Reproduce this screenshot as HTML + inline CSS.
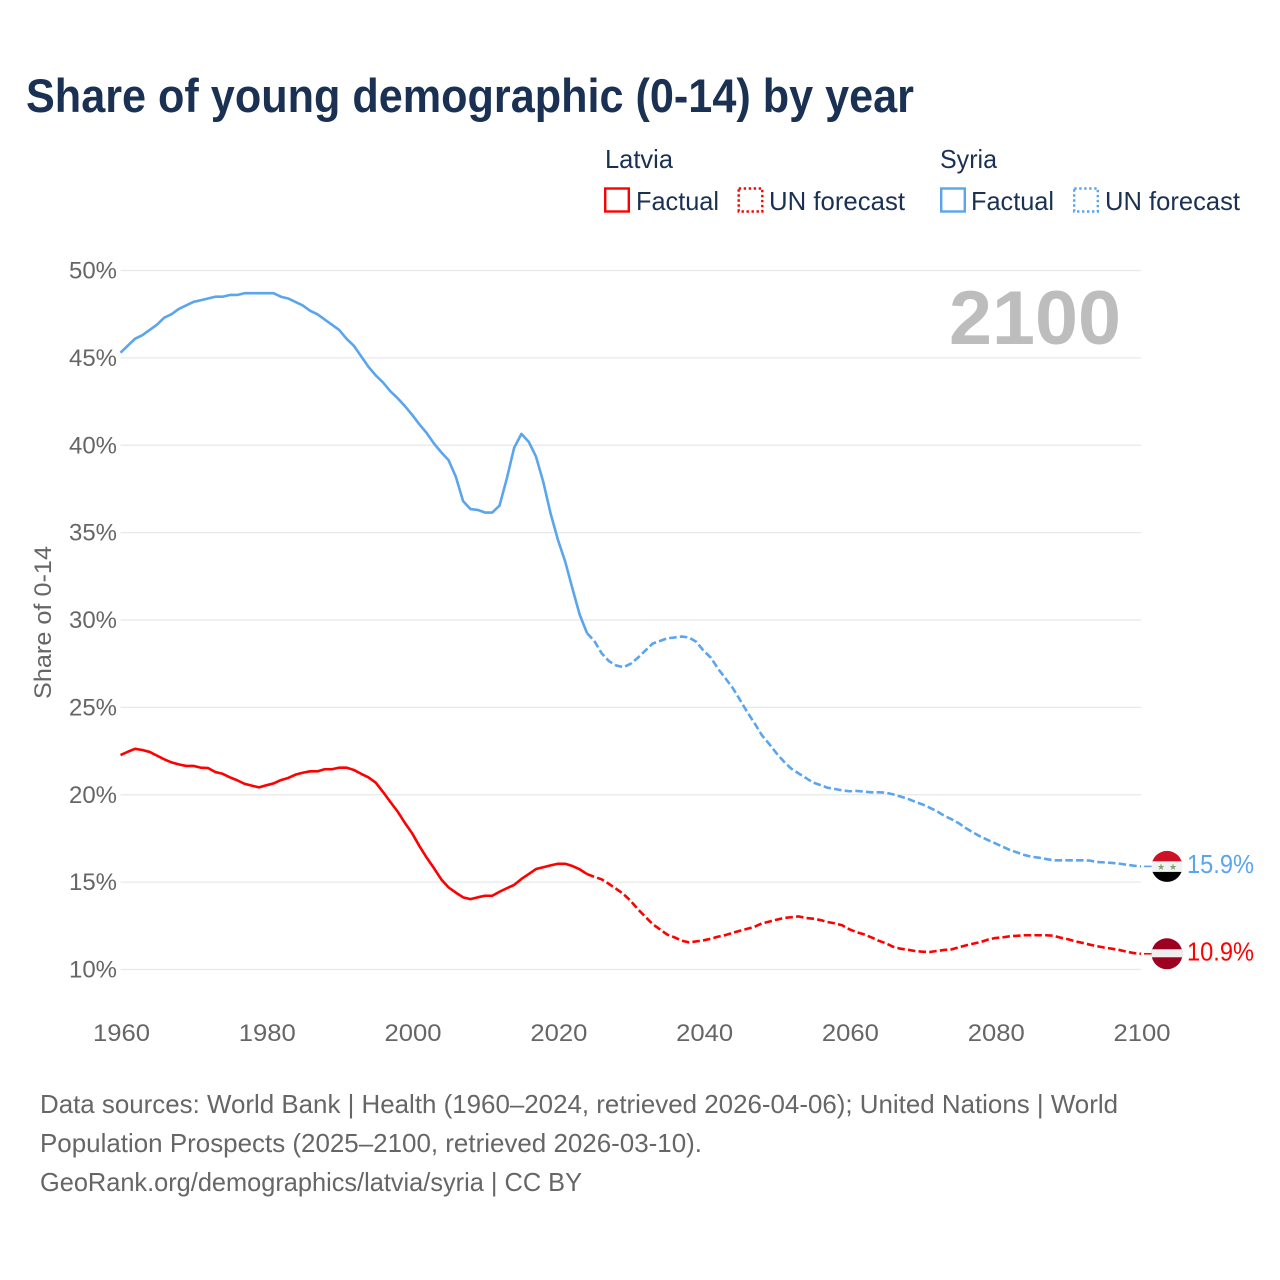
<!DOCTYPE html>
<html lang="en">
<head>
<meta charset="utf-8">
<title>Share of young demographic (0-14) by year</title>
<style>
html,body{margin:0;padding:0;background:#fff;}
svg{display:block;font-family:"Liberation Sans",sans-serif;}
</style>
</head>
<body>
<svg id="chart" width="1280" height="1280" viewBox="0 0 1280 1280" xmlns="http://www.w3.org/2000/svg">
  <defs>
    <clipPath id="flag-clip-syria"><circle id="clip-syria" r="15.5"></circle></clipPath>
    <clipPath id="flag-clip-latvia"><circle id="clip-latvia" r="15.5"></circle></clipPath>
  </defs>
  <rect width="1280" height="1280" fill="#ffffff"></rect>
  <text x="26" y="112" font-size="47" font-weight="700" fill="#1a3153" textLength="888" lengthAdjust="spacingAndGlyphs">Share of young demographic (0-14) by year</text>

  <g font-size="26" fill="#1a3153">
    <text x="605" y="168" textLength="68" lengthAdjust="spacingAndGlyphs">Latvia</text>
    <rect x="605.2" y="188.5" width="23.6" height="23" fill="none" stroke="#ff0000" stroke-width="2.4"></rect>
    <text x="636" y="210" textLength="83" lengthAdjust="spacingAndGlyphs">Factual</text>
    <rect x="738.7" y="188.5" width="23.6" height="23" fill="none" stroke="#ff0000" stroke-width="2.4" stroke-dasharray="2.4 2.6"></rect>
    <text x="769" y="210" textLength="136" lengthAdjust="spacingAndGlyphs">UN forecast</text>
    <text x="940" y="168" textLength="57" lengthAdjust="spacingAndGlyphs">Syria</text>
    <rect x="941.2" y="188.5" width="23.6" height="23" fill="none" stroke="#5aa5ee" stroke-width="2.4"></rect>
    <text x="971" y="210" textLength="83" lengthAdjust="spacingAndGlyphs">Factual</text>
    <rect x="1074.2" y="188.5" width="23.6" height="23" fill="none" stroke="#5aa5ee" stroke-width="2.4" stroke-dasharray="2.4 2.6"></rect>
    <text x="1105" y="210" textLength="135" lengthAdjust="spacingAndGlyphs">UN forecast</text>
  </g>

  <g id="grid"></g>
  <g id="y-ticks"></g>
  <g id="x-ticks"></g>

  <text transform="translate(51,699) rotate(-90)" font-size="24" fill="#666666" textLength="153" lengthAdjust="spacingAndGlyphs">Share of 0-14</text>
  <text x="949" y="344" font-size="76" font-weight="700" fill="#bdbdbd" textLength="172" lengthAdjust="spacingAndGlyphs">2100</text>

  <g id="series"></g>
  <g id="markers"></g>

  <g font-size="26" fill="#666666">
    <text x="40" y="1113" textLength="1078" lengthAdjust="spacingAndGlyphs">Data sources: World Bank | Health (1960–2024, retrieved 2026-04-06); United Nations | World</text>
    <text x="40" y="1152" textLength="662" lengthAdjust="spacingAndGlyphs">Population Prospects (2025–2100, retrieved 2026-03-10).</text>
    <text x="40" y="1191" textLength="542" lengthAdjust="spacingAndGlyphs">GeoRank.org/demographics/latvia/syria | CC BY</text>
  </g>
</svg>
<script>
const yTickValues = [10, 15, 20, 25, 30, 35, 40, 45, 50];
const xTickYears = [1960, 1980, 2000, 2020, 2040, 2060, 2080, 2100];
const factualStartYear = 1960;
const forecastStartYear = 2024;

const syriaFactual = [
  45.3,45.7,46.1,46.3,46.6,46.9,47.3,47.5,47.8,48.0,
  48.2,48.3,48.4,48.5,48.5,48.6,48.6,48.7,48.7,48.7,
  48.7,48.7,48.5,48.4,48.2,48.0,47.7,47.5,47.2,46.9,
  46.6,46.1,45.7,45.1,44.5,44.0,43.6,43.1,42.7,42.25,
  41.75,41.2,40.7,40.1,39.6,39.15,38.2,36.8,36.35,36.3,
  36.15,36.15,36.55,38.1,39.85,40.65,40.2,39.35,37.9,36.1,
  34.6,33.35,31.8,30.3,29.25
];
const syriaForecast = [
  29.25,28.8,28.1,27.65,27.4,27.3,27.5,27.85,28.25,28.65,28.8,28.95,
  29.0,29.05,29.0,28.75,
  28.24,27.84,27.2,26.66,26.1,25.42,24.72,24.08,23.4,22.9,
  22.37,21.9,21.5,21.23,20.97,20.7,20.56,20.4,20.33,20.25,
  20.2,20.22,20.18,20.14,20.14,20.12,20.02,19.9,19.77,19.6,
  19.45,19.26,19.06,18.8,18.6,18.37,18.08,17.83,17.6,17.41,
  17.22,17.03,16.84,16.7,16.55,16.45,16.4,16.32,16.25,16.25,
  16.25,16.25,16.25,16.23,16.15,16.13,16.1,16.06,16.0,15.94,15.9
];
const latviaFactual = [
  22.27,22.46,22.63,22.56,22.45,22.24,22.03,21.85,21.74,21.65,
  21.65,21.55,21.53,21.3,21.2,21.0,20.83,20.63,20.52,20.42,
  20.54,20.65,20.84,20.96,21.15,21.26,21.34,21.34,21.46,21.46,
  21.55,21.55,21.42,21.2,21.0,20.7,20.17,19.6,19.05,18.4,
  17.8,17.07,16.4,15.8,15.16,14.7,14.4,14.13,14.03,14.13,
  14.22,14.22,14.45,14.65,14.84,15.18,15.46,15.75,15.85,15.96,
  16.05,16.05,15.92,15.73,15.46
];
const latviaForecast = [
  15.46,15.3,15.16,14.9,14.62,14.32,13.92,13.44,13.02,12.6,12.3,12.0,11.84,
  11.65,11.55,11.61,11.67,11.76,11.88,11.97,12.1,12.22,12.33,12.45,12.64,12.74,
  12.85,12.95,12.99,13.04,12.95,12.91,12.83,12.72,12.64,12.53,
  12.3,12.13,12.01,11.84,11.65,11.5,11.3,11.19,11.13,11.06,
  11.02,11.0,11.06,11.12,11.15,11.27,11.38,11.48,11.57,11.71,
  11.8,11.84,11.9,11.93,11.96,11.96,11.96,11.96,11.93,11.82,
  11.73,11.61,11.52,11.42,11.33,11.25,11.19,11.12,11.02,10.94,10.9
];

const NS = 'http://www.w3.org/2000/svg';
const plotLeft = 120.5, plotRight = 1141, plotTop = 270.5, plotBottom = 969.5;
const markerX = 1167;
function xScale(year) { return plotLeft + (year - 1960) * (plotRight - plotLeft) / 140; }
function yScale(v) { return plotBottom - (v - 10) * (plotBottom - plotTop) / 40; }
function make(tag, attrs, parent) {
  const el = document.createElementNS(NS, tag);
  for (const k in attrs) el.setAttribute(k, attrs[k]);
  parent.appendChild(el);
  return el;
}
function pathFrom(values, startYear) {
  return values.map(function (v, i) {
    return (i ? 'L' : 'M') + xScale(startYear + i).toFixed(2) + ' ' + yScale(v).toFixed(2);
  }).join(' ');
}

const gridG = document.getElementById('grid');
const yG = document.getElementById('y-ticks');
yTickValues.forEach(function (v) {
  const line = make('line', { x1: plotLeft, x2: plotRight, y1: yScale(v), y2: yScale(v), stroke: '#e8e8e8', 'stroke-width': 1.2 }, gridG);
  
  
  const t = make('text', { x: 117, y: yScale(v) + 8, 'text-anchor': 'end', 'font-size': 24, fill: '#666666', textLength: 48, lengthAdjust: 'spacingAndGlyphs' }, yG);
  
  
  t.textContent = v + '%';
});

const xG = document.getElementById('x-ticks');
xTickYears.forEach(function (year) {
  const t = make('text', { x: xScale(year) - 27.5, y: 1041, 'font-size': 24, fill: '#666666', textLength: 57, lengthAdjust: 'spacingAndGlyphs' }, xG);
  
  
  t.textContent = String(year);
});

const seriesG = document.getElementById('series');
const syriaColor = '#5aa5ee';
const latviaColor = '#ff0000';
function drawLine(values, startYear, color, dashed, parent) {
  const attrs = { d: pathFrom(values, startYear), fill: 'none', stroke: color, 'stroke-width': 2.6, 'stroke-linejoin': 'round' };
  if (dashed) attrs['stroke-dasharray'] = '7.5 3.2';
  return make('path', attrs, parent);
}
const syriaSolid = drawLine(syriaFactual, factualStartYear, syriaColor, false, seriesG);


const syriaDash = drawLine(syriaForecast, forecastStartYear, syriaColor, true, seriesG);


const latviaSolid = drawLine(latviaFactual, factualStartYear, latviaColor, false, seriesG);


const latviaDash = drawLine(latviaForecast, forecastStartYear, latviaColor, true, seriesG);



const markersG = document.getElementById('markers');
const syriaLast = syriaForecast[syriaForecast.length - 1];
const latviaLast = latviaForecast[latviaForecast.length - 1];
const syY = yScale(syriaLast);
const laY = yScale(latviaLast);

const syLead = make('line', { x1: plotRight + 3, x2: markerX - 15, y1: syY, y2: syY, stroke: syriaColor, 'stroke-width': 1.6 }, markersG);


const laLead = make('line', { x1: plotRight + 3, x2: markerX - 15, y1: laY, y2: laY, stroke: latviaColor, 'stroke-width': 1.6 }, markersG);



document.getElementById('clip-syria').setAttribute('cx', markerX);
document.getElementById('clip-syria').setAttribute('cy', syY);
document.getElementById('clip-latvia').setAttribute('cx', markerX);
document.getElementById('clip-latvia').setAttribute('cy', laY);

const syFlag = make('g', { 'clip-path': 'url(#flag-clip-syria)' }, markersG);


make('rect', { x: markerX - 16, y: syY - 16, width: 32, height: 11, fill: '#ce1126' }, syFlag);
make('rect', { x: markerX - 16, y: syY - 5, width: 32, height: 10.5, fill: '#f2f2f2' }, syFlag);
make('rect', { x: markerX - 16, y: syY + 5.5, width: 32, height: 11, fill: '#000000' }, syFlag);
const starA = make('text', { x: markerX - 6, y: syY + 3.5, 'text-anchor': 'middle', 'font-size': 9, fill: '#7da66b', 'font-family': '"DejaVu Sans",sans-serif' }, syFlag);


starA.textContent = '★';
const starB = make('text', { x: markerX + 6, y: syY + 3.5, 'text-anchor': 'middle', 'font-size': 9, fill: '#7da66b', 'font-family': '"DejaVu Sans",sans-serif' }, syFlag);


starB.textContent = '★';

const laFlag = make('g', { 'clip-path': 'url(#flag-clip-latvia)' }, markersG);


make('rect', { x: markerX - 16, y: laY - 16, width: 32, height: 32, fill: '#9e0022' }, laFlag);
make('rect', { x: markerX - 16, y: laY - 4.5, width: 32, height: 8, fill: '#eeeeee' }, laFlag);

const syLabel = make('text', { x: 1187, y: syY + 6.8, 'font-size': 26, fill: syriaColor, textLength: 67, lengthAdjust: 'spacingAndGlyphs' }, markersG);


syLabel.textContent = syriaLast.toFixed(1) + '%';
const laLabel = make('text', { x: 1187, y: laY + 6.5, 'font-size': 26, fill: latviaColor, textLength: 67, lengthAdjust: 'spacingAndGlyphs' }, markersG);


laLabel.textContent = latviaLast.toFixed(1) + '%';
</script>
</body>
</html>
